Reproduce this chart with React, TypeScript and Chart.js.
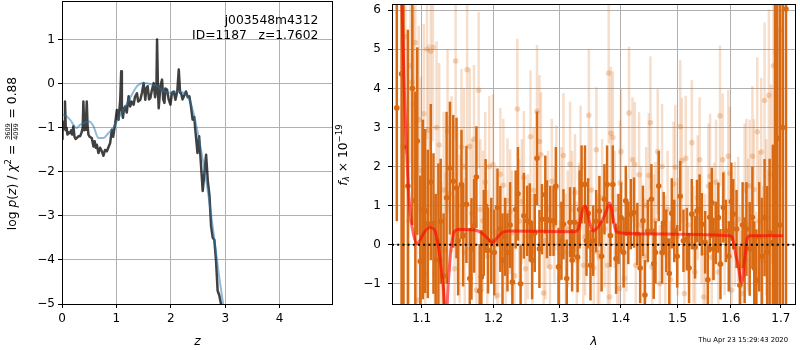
import { useEffect, useRef } from "react";
import { Chart, registerables } from "chart.js";

Chart.register(...registerables);

// ---------- left panel: redshift probability ----------
const zDark = [
  0.0, 0.01, 0.025, 0.04, 0.055, 0.07, 0.086, 0.1, 0.12, 0.147,
  0.17, 0.19, 0.209, 0.23, 0.25, 0.27, 0.3, 0.332, 0.36, 0.38,
  0.393, 0.41, 0.424, 0.44, 0.455, 0.47, 0.486, 0.51, 0.547, 0.578,
  0.6, 0.62, 0.64, 0.67, 0.7, 0.732, 0.762, 0.79, 0.824, 0.85,
  0.885, 0.916, 0.94, 0.978, 1.009, 1.025, 1.04, 1.07, 1.088, 1.1,
  1.12, 1.14, 1.162, 1.19, 1.224, 1.254, 1.28, 1.316, 1.34, 1.377,
  1.4, 1.439, 1.47, 1.5, 1.531, 1.55, 1.574, 1.6, 1.624, 1.65,
  1.685, 1.71, 1.735, 1.747, 1.765, 1.777, 1.808, 1.839, 1.86, 1.882,
  1.9, 1.931, 1.96, 1.993, 2.02, 2.054, 2.085, 2.12, 2.146, 2.17,
  2.189, 2.216, 2.25, 2.278, 2.31, 2.34, 2.37, 2.4, 2.43, 2.45,
  2.49, 2.52, 2.556, 2.586, 2.617, 2.648, 2.679, 2.71, 2.74, 2.77,
  2.8, 2.83, 2.86, 2.89, 2.93, 2.95,
];
const logpDark = [
  -1.25, -0.95, -1.04, -0.85, -0.4, -1.05, -1.0, -1.15, -1.1, -1.12,
  -1.05, -1.15, -0.96, -1.2, -1.25, -1.23, -1.19, -1.19, -1.1, -1.0,
  -0.4, -1.05, -1.04, -0.9, -0.4, -0.95, -1.15, -1.2, -1.23, -1.42,
  -1.3, -1.45, -1.38, -1.57, -1.45, -1.53, -1.63, -1.5, -1.53, -1.45,
  -1.34, -1.04, -1.2, -0.89, -0.59, -0.8, -0.81, -0.36, 0.29, -0.6,
  -0.77, -0.55, -0.51, -0.65, -0.28, -0.51, -0.4, -0.47, -0.3, -0.21,
  -0.4, -0.36, -0.2, 0.02, -0.36, -0.1, -0.05, -0.35, -0.32, -0.15,
  0.02, -0.3, -0.1, 1.01, -0.2, -0.55, -0.05, 0.1, -0.35, -0.43,
  -0.1, -0.13, -0.35, -0.47, -0.2, -0.17, -0.36, -0.15, 0.33, -0.2,
  -0.21, -0.35, -0.25, -0.17, -0.3, -0.28, -0.5, -0.81, -0.75, -1.04,
  -1.57, -1.19, -1.87, -2.43, -2.02, -1.61, -2.2, -2.54, -3.23, -3.49,
  -3.55, -4.0, -4.7, -4.8, -5.05, -5.3,
];
const zSmooth = [
  0.0, 0.025, 0.147, 0.27, 0.33, 0.393, 0.5, 0.578, 0.67, 0.76,
  0.85, 0.94, 1.04, 1.13, 1.25, 1.38, 1.5, 1.62, 1.75, 1.87,
  1.99, 2.11, 2.24, 2.34, 2.43, 2.52, 2.62, 2.71, 2.8, 2.88,
  2.96, 2.99,
];
const logpSmooth = [
  -0.7, -0.7, -0.81, -1.0, -0.93, -0.89, -0.85, -0.96, -1.23, -1.23,
  -1.12, -1.0, -0.77, -0.58, -0.32, -0.05, 0.02, 0.0, -0.05, -0.17,
  -0.2, -0.17, -0.2, -0.35, -0.73, -1.27, -1.95, -2.7, -3.53, -4.3,
  -5.0, -5.3,
];
const zTicks = [0, 1, 2, 3, 4];
const logpTicks = [-5, -4, -3, -2, -1, 0, 1];

// ---------- right panel: spectrum ----------
const lamDark = [
  1.0673, 1.0735, 1.076, 1.0817, 1.0876, 1.0915, 1.0941, 1.0981, 1.1016, 1.1047,
  1.1082, 1.1122, 1.1158, 1.1188, 1.1225, 1.1256, 1.1296, 1.1337, 1.1383, 1.1429,
  1.1474, 1.1497, 1.1543, 1.1566, 1.1613, 1.166, 1.1684, 1.1722, 1.1754, 1.1801,
  1.1825, 1.186, 1.1886, 1.1921, 1.1968, 1.2011, 1.2059, 1.21, 1.2132, 1.217,
  1.2205, 1.2244, 1.2278, 1.2327, 1.2361, 1.2401, 1.245, 1.25, 1.254, 1.2575,
  1.2615, 1.265, 1.2687, 1.2726, 1.2778, 1.2803, 1.2855, 1.2906, 1.2942, 1.2984,
  1.303, 1.3062, 1.3114, 1.3167, 1.32, 1.3235, 1.3288, 1.332, 1.3352, 1.3407,
  1.3432, 1.346, 1.3497, 1.3541, 1.359, 1.3644, 1.368, 1.3727, 1.3772, 1.3827,
  1.3867, 1.3922, 1.3964, 1.4006, 1.405, 1.4087, 1.413, 1.4172, 1.4228, 1.4286,
  1.4335, 1.4383, 1.4418, 1.4469, 1.4532, 1.4572, 1.4603, 1.4661, 1.4721, 1.4749,
  1.4796, 1.485, 1.4895, 1.494, 1.4993, 1.5047, 1.5107, 1.5169, 1.521, 1.5261,
  1.5321, 1.5357, 1.5406, 1.5449, 1.551, 1.556, 1.5597, 1.5634, 1.5666, 1.571,
  1.576, 1.58, 1.5855, 1.5904, 1.596, 1.601, 1.6047, 1.6111, 1.6176, 1.623,
  1.627, 1.6305, 1.637, 1.6424, 1.646, 1.6502, 1.656, 1.661, 1.6668, 1.672,
  1.677, 1.6836, 1.688, 1.6923, 1.698, 1.704, 1.7106,
];
const fluxDark = [
  3.5, 4.37, 2.5, 1.5, 4.0, 1.12, 2.65, -0.43, 0.9, 0.86,
  0.53, 1.6, 0.54, -0.4, 0.08, 0.6, -0.8, 1.2, 1.96, 1.62,
  1.45, 0.1, 1.54, 0.23, 1.03, -0.87, -0.11, 0.48, 1.73, -1.19,
  -0.83, 0.3, 0.99, -0.15, 0.1, -0.2, 0.95, 0.4, -0.4, 0.2,
  -0.2, 0.5, -0.96, 0.9, 1.3, -1.0, 0.74, 0.61, 0.57, -0.4,
  0.3, 2.21, -0.11, 0.65, 1.28, 0.65, 0.61, 0.61, 1.5, -0.57,
  0.1, 0.52, -0.87, 0.57, -0.4, 0.57, -0.32, 0.9, 1.54, 1.54,
  0.1, 0.8, -0.53, 0.1, 0.6, 0.86, -0.3, 1.16, 1.54, 0.23,
  1.54, -0.36, 0.4, 0.69, -0.2, 1.12, 0.3, 0.78, 0.82, 0.27,
  -0.6, 0.61, -1.29, 0.35, 1.16, -0.49, -0.2, 1.5, -0.2, 0.55,
  0.1, -0.74, 0.8, 0.35, -0.3, 1.24, 0.1, 0.14, -0.6, 0.78,
  -0.07, 0.86, 0.9, 0.52, 0.06, -0.9, 0.7, 1.07, -0.11, 0.3,
  0.69, -0.5, 0.95, 0.35, -0.3, 1.1, 0.78, 0.4, -1.04, 0.5,
  -0.4, 0.4, -0.11, 0.7, -0.6, -0.91, 0.2, -0.3, 0.69, -0.2,
  0.3, 0.06, 1.5, 2.72, 0.5, 3.0, 6.03,
];
const errDark = [
  2.9, 7, 5, 4, 3.5, 2.8, 2.4, 2.2, 2.3, 2.1,
  1.9, 2.0, 1.8, 1.7, 2.0, 1.6, 1.6, 2.2, 1.7, 1.7,
  1.8, 1.4, 1.4, 1.3, 1.5, 1.3, 1.3, 1.2, 1.3, 1.2,
  1.2, 1.1, 1.2, 1.1, 1.1, 1.1, 1.0, 1.1, 1.2, 1.0,
  1.0, 1.1, 1.0, 1.0, 1.2, 1.0, 1.1, 0.9, 1.0, 1.0,
  1.0, 1.2, 1.0, 0.9, 1.0, 1.0, 0.9, 0.9, 1.0, 1.0,
  1.0, 0.9, 1.0, 0.9, 0.8, 0.9, 0.9, 1.0, 1.0, 1.0,
  0.9, 0.9, 0.9, 0.9, 0.8, 0.9, 0.9, 0.9, 1.0, 0.8,
  1.0, 0.9, 0.9, 0.9, 0.9, 0.9, 0.8, 0.9, 0.9, 0.8,
  0.9, 0.9, 0.9, 0.8, 0.9, 0.9, 0.8, 0.9, 0.8, 0.8,
  0.8, 0.9, 0.9, 0.8, 0.8, 0.9, 0.8, 0.8, 0.9, 0.9,
  0.8, 0.8, 0.9, 0.8, 0.8, 0.9, 0.9, 0.9, 0.8, 0.8,
  0.9, 0.9, 0.9, 0.8, 0.9, 1.0, 0.9, 1.0, 1.0, 1.1,
  1.1, 1.2, 1.2, 1.3, 1.2, 1.3, 1.4, 1.5, 1.5, 1.7,
  1.9, 2.5, 6, 7, 8, 8, 8,
];
const lamLight = [
  1.0784, 1.0829, 1.085, 1.0872, 1.089, 1.0915, 1.094, 1.096, 1.099, 1.1027,
  1.1047, 1.107, 1.1092, 1.1122, 1.115, 1.1175, 1.12, 1.1235, 1.1265, 1.1296,
  1.132, 1.135, 1.1379, 1.1405, 1.1448, 1.1462, 1.1489, 1.1517, 1.1543, 1.1578,
  1.159, 1.1623, 1.166, 1.169, 1.172, 1.1754, 1.1786, 1.181, 1.1848, 1.188,
  1.191, 1.1939, 1.1992, 1.203, 1.206, 1.21, 1.2144, 1.218, 1.2205, 1.2244,
  1.227, 1.231, 1.2352, 1.238, 1.242, 1.245, 1.2475, 1.251, 1.255, 1.258,
  1.26, 1.265, 1.2687, 1.2711, 1.2752, 1.278, 1.282, 1.285, 1.2879, 1.292,
  1.295, 1.3, 1.303, 1.3062, 1.31, 1.313, 1.3167, 1.32, 1.3246, 1.3275,
  1.331, 1.3336, 1.338, 1.341, 1.347, 1.351, 1.355, 1.3594, 1.3617, 1.3644,
  1.369, 1.373, 1.3782, 1.3798, 1.3815, 1.3835, 1.3867, 1.39, 1.394, 1.3974,
  1.399, 1.4006, 1.4062, 1.41, 1.4143, 1.4202, 1.4242, 1.4259, 1.4316, 1.435,
  1.44, 1.444, 1.4486, 1.4515, 1.4544, 1.4575, 1.4603, 1.4643, 1.468, 1.4721,
  1.4779, 1.482, 1.4868, 1.4928, 1.4958, 1.5, 1.5047, 1.5078, 1.5125, 1.515,
  1.519, 1.5261, 1.529, 1.5321, 1.537, 1.5406, 1.544, 1.548, 1.551, 1.5572,
  1.5603, 1.5634, 1.568, 1.5716, 1.576, 1.5791, 1.5842, 1.588, 1.5951, 1.5983,
  1.6015, 1.6079, 1.6144, 1.618, 1.6208, 1.627, 1.6305, 1.6338, 1.637, 1.6424,
  1.6455, 1.6502, 1.6521, 1.656, 1.66, 1.6634, 1.6668, 1.6701, 1.6735, 1.6755,
  1.68, 1.685, 1.6903, 1.695, 1.7,
];
const fluxLight = [
  5.32, 0.61, 4.58, 4.16, 3.6, 5.17, -1.42, 3.2, 1.9, 3.35,
  -0.74, 5.0, 2.93, 4.95, 5.05, -0.74, 3.0, 2.55, -0.4, 1.4,
  -0.15, 2.9, 1.3, 1.8, -0.62, 4.7, 1.0, 0.4, 2.5, 2.0,
  -0.2, 4.48, 2.51, 0.8, 2.7, -1.17, 3.95, 0.9, 0.61, 1.6,
  -0.3, 2.0, 2.05, 0.3, -1.3, 1.8, 1.52, -0.5, 1.12, 0.84,
  0.3, -0.8, 3.47, 0.6, 1.1, 1.72, -0.62, 0.2, 2.76, -0.2,
  1.39, 3.41, 2.64, 2.3, -1.24, 0.1, 0.9, -0.57, 1.62, 0.5,
  1.45, -0.87, 1.0, 2.28, -0.2, 0.4, 2.06, 0.9, 1.33, -0.4,
  0.6, 1.96, -0.53, 0.2, 3.31, 1.4, -0.6, 2.43, -0.2, -0.32,
  1.2, 0.4, -0.53, 4.39, -1.34, 2.85, 2.74, 0.9, -0.2, -1.12,
  1.58, 2.38, -0.87, 0.3, 3.37, 2.17, 2.05, -0.53, 1.79, 0.5,
  -0.3, 1.0, 1.77, 3.12, -0.57, 0.3, 0.61, 2.38, -1.0, 2.0,
  -0.24, 0.9, -0.9, 1.55, 1.98, 0.2, 3.02, 2.15, -1.25, 2.21,
  0.5, 2.61, 0.0, -0.7, 1.2, 2.17, 0.5, -1.34, -0.2, 1.5,
  1.75, -0.32, 0.6, 1.6, -0.7, 3.3, 2.17, 0.3, 2.26, 1.83,
  -1.17, 0.52, 0.65, -0.6, -1.25, 1.4, 1.52, 0.5, 1.5, 2.26,
  1.41, -0.96, 2.89, 0.6, 2.37, -0.4, 3.69, 0.7, -0.07, 3.82,
  1.8, 4.58, 4.92, 2.0, 5.5,
];
const errLight = [
  3, 2.5, 2.5, 2.5, 2.5, 2.5, 2.2, 2.4, 2.4, 2.3,
  2.2, 2.3, 2.2, 2.4, 2.4, 2.0, 2.2, 2.1, 2.0, 2.0,
  2.0, 2.1, 2.0, 2.0, 1.9, 2.0, 2.0, 1.9, 2.0, 2.0,
  1.9, 2.0, 2.0, 1.9, 1.9, 1.8, 2.0, 1.8, 1.8, 1.8,
  1.7, 1.8, 1.8, 1.7, 1.7, 1.7, 1.7, 1.6, 1.6, 1.6,
  1.6, 1.6, 1.8, 1.6, 1.6, 1.7, 1.6, 1.6, 1.7, 1.5,
  1.6, 1.7, 1.7, 1.6, 1.6, 1.5, 1.5, 1.5, 1.6, 1.5,
  1.6, 1.5, 1.5, 1.6, 1.5, 1.5, 1.6, 1.5, 1.5, 1.5,
  1.5, 1.6, 1.5, 1.5, 1.7, 1.6, 1.5, 1.6, 1.5, 1.5,
  1.5, 1.5, 1.5, 1.8, 1.6, 1.7, 1.7, 1.5, 1.5, 1.6,
  1.6, 1.6, 1.5, 1.5, 1.7, 1.6, 1.6, 1.5, 1.6, 1.5,
  1.5, 1.5, 1.6, 1.7, 1.5, 1.5, 1.5, 1.6, 1.5, 1.6,
  1.5, 1.5, 1.5, 1.6, 1.6, 1.5, 1.7, 1.6, 1.5, 1.6,
  1.5, 1.6, 1.5, 1.5, 1.6, 1.6, 1.5, 1.6, 1.5, 1.6,
  1.6, 1.5, 1.5, 1.6, 1.6, 1.8, 1.7, 1.6, 1.7, 1.7,
  1.6, 1.6, 1.6, 1.6, 1.6, 1.7, 1.7, 1.7, 1.7, 1.8,
  1.8, 1.8, 1.9, 1.8, 1.9, 1.9, 2.0, 2.0, 2.0, 2.2,
  2.3, 2.5, 3, 3.5, 4,
];
const lamModel = [
  1.066, 1.07, 1.074, 1.077, 1.08, 1.0825, 1.085, 1.089, 1.094, 1.098,
  1.102, 1.107, 1.111, 1.115, 1.118, 1.121, 1.124, 1.129, 1.133, 1.136,
  1.139, 1.141, 1.143, 1.146, 1.149, 1.166, 1.175, 1.182, 1.187, 1.191,
  1.195, 1.199, 1.202, 1.205, 1.209, 1.213, 1.218, 1.2245, 1.324, 1.328,
  1.331, 1.335, 1.338, 1.341, 1.345, 1.349, 1.352, 1.355, 1.359, 1.362,
  1.366, 1.37, 1.376, 1.379, 1.381, 1.384, 1.387, 1.39, 1.392, 1.396,
  1.401, 1.47, 1.597, 1.603, 1.607, 1.61, 1.614, 1.6185, 1.6215, 1.624,
  1.626, 1.629, 1.631, 1.634, 1.637, 1.705,
];
const fluxModel = [
  12, 8.5, 6.2, 4.0, 2.38, 1.4, 0.78, 0.27, 0.02, 0.12,
  0.27, 0.4, 0.44, 0.42, 0.35, 0.1, -0.24, -1.08, -1.9, -1.0,
  -0.24, 0.05, 0.27, 0.36, 0.39, 0.38, 0.37, 0.31, 0.24, 0.17,
  0.09, 0.06, 0.1, 0.17, 0.25, 0.31, 0.34, 0.35, 0.33, 0.36,
  0.44, 0.75, 0.95, 0.99, 0.8, 0.53, 0.38, 0.35, 0.4, 0.44,
  0.55, 0.65, 0.86, 1.0, 1.07, 0.95, 0.69, 0.45, 0.35, 0.31,
  0.3, 0.27, 0.23, 0.18, -0.07, -0.3, -0.49, -0.87, -0.98, -0.8,
  -0.49, -0.15, 0.1, 0.2, 0.23, 0.23,
];
const lamTicks = [1.1, 1.2, 1.3, 1.4, 1.5, 1.6, 1.7];
const fluxTicks = [-1, 0, 1, 2, 3, 4, 5, 6];

const objectName = "j003548m4312";
const objectInfo = "ID=1187   z=1.7602";
const timestamp = "Thu Apr 23 15:29:43 2020";

// ---------- helpers ----------
const FAMILY = '"DejaVu Sans"';
const BASE = 12.3;
const DARK = "#d96a14";
const LIGHT_BAR = "rgba(217,106,20,0.22)";
const LIGHT_PT = "rgba(217,106,20,0.28)";

const fontOf = (size: number, it?: boolean) => `${it ? "italic " : ""}${size}px ${FAMILY}`;
const fmtNum = (v: any) => {
  const n = Number(v);
  return n < 0 ? "\u2212" + String(-n) : String(n);
};

type Run = { t?: string; size?: number; it?: boolean; dy?: number; frac?: [string, string] };

function runWidth(ctx: CanvasRenderingContext2D, r: Run) {
  if (r.frac) {
    ctx.font = fontOf(r.size || 6.5);
    return Math.max(ctx.measureText(r.frac[0]).width, ctx.measureText(r.frac[1]).width) + 2;
  }
  ctx.font = fontOf(r.size || BASE, r.it);
  return ctx.measureText(r.t || "").width;
}

function drawRuns(ctx: CanvasRenderingContext2D, runs: Run[], x: number, y: number, rotate: boolean) {
  ctx.save();
  ctx.translate(x, y);
  if (rotate) ctx.rotate(-Math.PI / 2);
  ctx.fillStyle = "#000";
  ctx.textBaseline = "alphabetic";
  const ws = runs.map((r) => runWidth(ctx, r));
  const total = ws.reduce((a, b) => a + b, 0);
  let cx = -total / 2;
  runs.forEach((r, i) => {
    if (r.frac) {
      ctx.font = fontOf(r.size || 6.5);
      ctx.textAlign = "center";
      const mid = cx + ws[i] / 2;
      ctx.fillText(r.frac[0], mid, -6.0);
      ctx.fillText(r.frac[1], mid, 2.4);
      ctx.fillRect(cx + 1, -4.8, ws[i] - 2, 0.8);
    } else {
      ctx.textAlign = "left";
      ctx.font = fontOf(r.size || BASE, r.it);
      ctx.fillText(r.t || "", cx, r.dy || 0);
    }
    cx += ws[i];
  });
  ctx.restore();
}

function makeAxis(type: string, min: number, max: number, ticks: number[], size: number, isX: boolean, pad: number) {
  return {
    type,
    min,
    max,
    bounds: "data",
    offset: false,
    afterBuildTicks: (s: any) => {
      s.ticks = ticks.map((v) => ({ value: v }));
    },
    afterFit: (s: any) => {
      if (isX) s.height = size;
      else s.width = size;
      s.paddingTop = 0;
      s.paddingBottom = 0;
      s.paddingLeft = 0;
      s.paddingRight = 0;
    },
    grid: {
      color: "#b0b0b0",
      lineWidth: 1,
      drawTicks: true,
      tickLength: 4,
      tickColor: "#000",
      tickWidth: 1,
      offset: false,
    },
    border: { display: false },
    ticks: {
      color: "#000",
      font: { family: FAMILY, size: 12 },
      padding: pad,
      autoSkip: false,
      maxRotation: 0,
      minRotation: 0,
      callback: (v: any) => fmtNum(Number(v).toFixed(type === "logarithmic" ? 1 : 0)),
    },
  };
}

function drawFrame(chart: any) {
  const { ctx, chartArea: a } = chart;
  ctx.save();
  ctx.strokeStyle = "#000";
  ctx.lineWidth = 1;
  const l = Math.round(a.left) + 0.5;
  const t = Math.round(a.top) + 0.5;
  const r = Math.round(a.right) - 0.5;
  const b = Math.round(a.bottom) + 0.5;
  ctx.strokeRect(l, t, r - l, b - t);
  ctx.restore();
}

const leftDeco = {
  id: "leftDeco",
  afterDatasetsDraw(chart: any) {
    drawFrame(chart);
    const { ctx, chartArea: a } = chart;
    ctx.save();
    ctx.fillStyle = "#000";
    ctx.font = fontOf(BASE);
    ctx.textAlign = "right";
    ctx.textBaseline = "alphabetic";
    ctx.fillText(objectName, a.right - 14.7, 24);
    ctx.fillText(objectInfo, a.right - 14.7, 38.7);
    ctx.restore();
    drawRuns(ctx, [{ t: "z", it: true }], (a.left + a.right) / 2, 345, false);
    drawRuns(
      ctx,
      [
        { t: "log " },
        { t: "p", it: true },
        { t: "(" },
        { t: "z", it: true },
        { t: ") / " },
        { t: "\u03c7", it: true },
        { t: "2", size: 8.6, dy: -4.8 },
        { t: " = " },
        { frac: ["3609", "4099"], size: 6.5 },
        { t: " = 0.88" },
      ],
      16,
      (a.top + a.bottom) / 2 + 1,
      true
    );
  },
};

const rightDeco = {
  id: "rightDeco",
  afterDatasetsDraw(chart: any) {
    drawFrame(chart);
    const { ctx, chartArea: a } = chart;
    drawRuns(ctx, [{ t: "\u03bb", it: true }], (a.left + a.right) / 2, 345, false);
    drawRuns(
      ctx,
      [
        { t: "f", it: true },
        { t: "\u03bb", it: true, size: 8.6, dy: 2.4 },
        { t: " \u00d7 10" },
        { t: "\u221219", size: 8.6, dy: -5 },
      ],
      13,
      (a.top + a.bottom) / 2 + 1,
      true
    );
    ctx.save();
    ctx.fillStyle = "#000";
    ctx.font = fontOf(6.8);
    ctx.textAlign = "right";
    ctx.textBaseline = "alphabetic";
    ctx.fillText(timestamp, 454, 341.5);
    ctx.restore();
  },
};

export default function App() {
  const leftRef = useRef<HTMLCanvasElement>(null);
  const rightRef = useRef<HTMLCanvasElement>(null);

  useEffect(() => {
    Chart.defaults.font.family = FAMILY;

    const left = new Chart(leftRef.current as HTMLCanvasElement, {
      type: "line",
      data: {
        datasets: [
          {
            data: zDark.map((z, i) => ({ x: z, y: logpDark[i] })),
            borderColor: "rgba(0,0,0,0.75)",
            borderWidth: 2.5,
            borderJoinStyle: "round",
            pointRadius: 0,
            tension: 0,
            order: 2,
          },
          {
            data: zSmooth.map((z, i) => ({ x: z, y: logpSmooth[i] })),
            borderColor: "rgba(31,119,180,0.5)",
            borderWidth: 2,
            pointRadius: 0,
            cubicInterpolationMode: "monotone",
            order: 1,
          },
        ],
      },
      options: {
        responsive: false,
        animation: false,
        events: [],
        layout: { padding: { left: 0, right: 7, top: 1, bottom: 0 } },
        plugins: { legend: { display: false }, tooltip: { enabled: false } },
        scales: {
          x: makeAxis("linear", 0, 4.98, zTicks, 46, true, 4),
          y: makeAxis("linear", -5, 1.886, logpTicks, 62, false, 3),
        },
      } as any,
      plugins: [leftDeco],
    } as any);

    const right = new Chart(rightRef.current as HTMLCanvasElement, {
      type: "bar",
      data: {
        datasets: [
          {
            type: "line",
            data: [
              { x: 1.0611, y: 0 },
              { x: 1.7315, y: 0 },
            ],
            borderColor: "#000",
            borderWidth: 2,
            borderDash: [2, 3.2],
            pointRadius: 0,
            order: 1,
          },
          {
            type: "line",
            data: lamModel.map((l, i) => ({ x: l, y: fluxModel[i] })),
            borderColor: "rgba(255,0,0,0.6)",
            borderWidth: 3,
            pointRadius: 0,
            cubicInterpolationMode: "monotone",
            order: 2,
          },
          {
            type: "scatter",
            data: lamDark.map((l, i) => ({ x: l, y: fluxDark[i] })),
            backgroundColor: DARK,
            borderWidth: 0,
            pointRadius: 2.8,
            order: 3,
          },
          {
            type: "bar",
            data: lamDark.map((l, i) => ({ x: l, y: [fluxDark[i] - errDark[i], fluxDark[i] + errDark[i]] })),
            backgroundColor: DARK,
            borderWidth: 0,
            barThickness: 2.5,
            inflateAmount: 0,
            grouped: false,
            order: 4,
          },
          {
            type: "scatter",
            data: lamLight.map((l, i) => ({ x: l, y: fluxLight[i] })),
            backgroundColor: LIGHT_PT,
            borderWidth: 0,
            pointRadius: 2.8,
            order: 5,
          },
          {
            type: "bar",
            data: lamLight.map((l, i) => ({ x: l, y: [fluxLight[i] - errLight[i], fluxLight[i] + errLight[i]] })),
            backgroundColor: LIGHT_BAR,
            borderWidth: 0,
            barThickness: 2.5,
            inflateAmount: 0,
            grouped: false,
            order: 6,
          },
        ],
      },
      options: {
        responsive: false,
        animation: false,
        events: [],
        layout: { padding: { left: 0, right: 1, top: 1, bottom: 0 } },
        plugins: { legend: { display: false }, tooltip: { enabled: false } },
        scales: {
          x: makeAxis("logarithmic", 1.0611, 1.7315, lamTicks, 46, true, 4),
          y: makeAxis("linear", -1.52, 6.16, fluxTicks, 58, false, 7),
        },
      } as any,
      plugins: [rightDeco],
    } as any);

    return () => {
      left.destroy();
      right.destroy();
    };
  }, []);

  return (
    <div style={{ position: "fixed", left: 0, top: 0, width: 800, height: 350, background: "#fff" }}>
      <canvas ref={leftRef} width={340} height={350} style={{ position: "absolute", left: 0, top: 0 }} />
      <canvas ref={rightRef} width={466} height={350} style={{ position: "absolute", left: 334, top: 0 }} />
    </div>
  );
}
